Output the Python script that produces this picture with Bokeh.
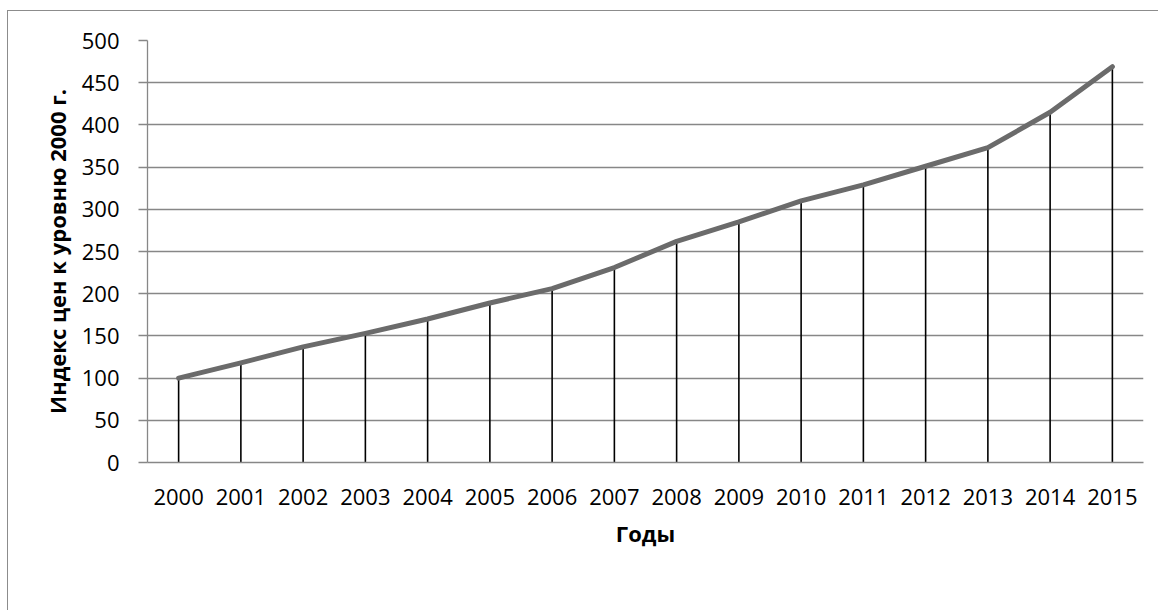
from bokeh.plotting import figure
from bokeh.models import FactorRange, Range1d, FixedTicker
from bokeh.embed import file_html
from bokeh.resources import INLINE

# Price index relative to the 2000 level, by year
years = ["2000", "2001", "2002", "2003", "2004", "2005", "2006", "2007",
         "2008", "2009", "2010", "2011", "2012", "2013", "2014", "2015"]
index_values = [100, 118, 137, 153, 170, 189, 206, 231,
                262, 285, 310, 329, 351, 373, 415, 469]
y_ticks = [0, 50, 100, 150, 200, 250, 300, 350, 400, 450, 500]

x_title = "Годы"
y_title = "Индекс цен к уровню 2000 г."

FONT = "Open Sans"
GRID = "#878787"

p = figure(
    x_range=FactorRange(*years, range_padding=0),
    y_range=Range1d(0, 500),
    frame_width=996, frame_height=422,
    min_border_left=139, min_border_right=15,
    min_border_top=29, min_border_bottom=148,
    output_backend="svg", toolbar_location=None, tools="",
    background_fill_color="white", border_fill_color="white",
    styles={
        "margin-left": "7px", "margin-top": "10px",
        "border-left": "1px solid #8c8c8c", "border-top": "1px solid #8c8c8c",
    },
)
p.outline_line_color = None

# horizontal gridlines only
p.xgrid.grid_line_color = None
p.ygrid.grid_line_color = GRID
p.ygrid.grid_line_width = 1.3
p.ygrid.ticker = FixedTicker(ticks=y_ticks)

# vertical axis
p.yaxis.ticker = FixedTicker(ticks=y_ticks)
p.yaxis.axis_line_color = GRID
p.yaxis.axis_line_width = 1.3
p.yaxis.major_tick_line_color = GRID
p.yaxis.major_tick_line_width = 1.3
p.yaxis.major_tick_in = 0
p.yaxis.major_tick_out = 9
p.yaxis.minor_tick_line_color = None
p.yaxis.major_label_standoff = 19
p.yaxis.major_label_text_font = FONT
p.yaxis.major_label_text_font_size = "22px"
p.yaxis.major_label_text_color = "black"
p.yaxis.axis_label = y_title
p.yaxis.axis_label_text_font = FONT
p.yaxis.axis_label_text_font_size = "22px"
p.yaxis.axis_label_text_font_style = "bold"
p.yaxis.axis_label_text_color = "black"
p.yaxis.axis_label_standoff = 7

# horizontal (category) axis
p.xaxis.axis_line_color = GRID
p.xaxis.axis_line_width = 1.3
p.xaxis.major_tick_line_color = None
p.xaxis.major_tick_in = 0
p.xaxis.major_tick_out = 0
p.xaxis.minor_tick_line_color = None
p.xaxis.major_label_standoff = 26
p.xaxis.major_label_text_font = FONT
p.xaxis.major_label_text_font_size = "22px"
p.xaxis.major_label_text_color = "black"
p.xaxis.axis_label = x_title
p.xaxis.axis_label_text_font = FONT
p.xaxis.axis_label_text_font_size = "22px"
p.xaxis.axis_label_text_font_style = "bold"
p.xaxis.axis_label_text_color = "black"
p.xaxis.axis_label_standoff = 10

# drop lines from each point down to zero
p.segment(x0=years, y0=[0] * len(years), x1=years, y1=index_values,
          line_color="black", line_width=1.6)

# index line
p.line(x=years, y=index_values, line_color="#6b6b6b", line_width=5,
       line_cap="round", line_join="round")

open("out.html", "w").write(file_html(p, INLINE))
